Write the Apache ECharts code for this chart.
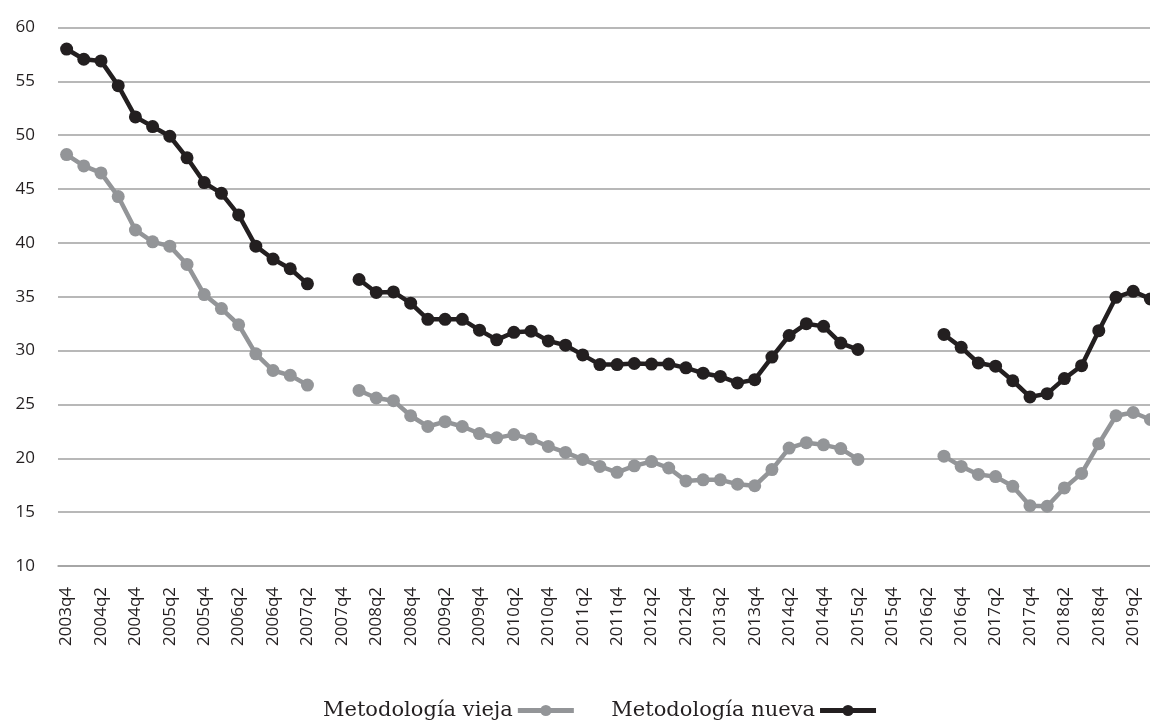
<!DOCTYPE html>
<html>
<head>
<meta charset="utf-8">
<script src="https://cdn.jsdelivr.net/npm/echarts@6/dist/echarts.min.js"></script>
<style>html,body{margin:0;padding:0;background:#fff;overflow:hidden;width:1150px;height:721px;}#c{width:1159px;height:721px;}</style>
</head>
<body>
<div id="c"></div>
<script>
var categories = [
 '2003q4',
 '2004q1','2004q2','2004q3','2004q4',
 '2005q1','2005q2','2005q3','2005q4',
 '2006q1','2006q2','2006q3','2006q4',
 '2007q1','2007q2','2007q3','2007q4',
 '2008q1','2008q2','2008q3','2008q4',
 '2009q1','2009q2','2009q3','2009q4',
 '2010q1','2010q2','2010q3','2010q4',
 '2011q1','2011q2','2011q3','2011q4',
 '2012q1','2012q2','2012q3','2012q4',
 '2013q1','2013q2','2013q3','2013q4',
 '2014q1','2014q2','2014q3','2014q4',
 '2015q1','2015q2','2015q3','2015q4',
 '2016q1','2016q2','2016q3','2016q4',
 '2017q1','2017q2','2017q3','2017q4',
 '2018q1','2018q2','2018q3','2018q4',
 '2019q1','2019q2','2019q3'
];
var vieja = [
 48.2,
 47.15,46.5,44.3,41.2,
 40.1,39.7,38.0,35.2,
 33.9,32.4,29.7,28.15,
 27.7,26.8,null,null,
 26.3,25.6,25.35,23.95,
 22.95,23.4,22.95,22.3,
 21.9,22.2,21.8,21.1,
 20.55,19.9,19.25,18.7,
 19.3,19.7,19.1,17.9,
 18.0,18.0,17.6,17.45,
 18.95,20.95,21.45,21.25,
 20.9,19.9,null,null,
 null,null,20.2,19.25,
 18.5,18.3,17.4,15.6,
 15.55,17.25,18.6,21.35,
 23.95,24.25,23.6
];
var nueva = [
 58.0,
 57.05,56.9,54.6,51.7,
 50.8,49.9,47.9,45.6,
 44.6,42.6,39.7,38.5,
 37.6,36.2,null,null,
 36.6,35.4,35.45,34.4,
 32.9,32.9,32.9,31.9,
 31.0,31.7,31.8,30.9,
 30.5,29.6,28.7,28.7,
 28.8,28.75,28.75,28.4,
 27.9,27.6,27.0,27.3,
 29.4,31.4,32.5,32.25,
 30.7,30.1,null,null,
 null,null,31.5,30.3,
 28.85,28.55,27.2,25.7,
 26.0,27.4,28.6,31.85,
 34.95,35.5,34.8
];
var seriesNames = ['Metodología vieja', 'Metodología nueva'];

var chart = echarts.init(document.getElementById('c'), null, {renderer: 'canvas'});
chart.setOption({
  animation: false,
  backgroundColor: '#ffffff',
  grid: {left: 58, right: 0, top: 27.5, bottom: 155, containLabel: false},
  legend: {
    data: seriesNames,
    left: 318,
    top: 695,
    align: 'right',
    itemWidth: 56,
    itemHeight: 14,
    itemGap: 35,
    lineStyle: {width: 5},
    textStyle: {fontFamily: 'DejaVu Serif', fontSize: 21, color: '#231f20'}
  },
  xAxis: {
    type: 'category',
    data: categories,
    boundaryGap: true,
    axisLine: {show: true, lineStyle: {color: '#a0a0a0', width: 1.5}},
    axisTick: {show: false},
    axisLabel: {interval: 1, rotate: 90, margin: 21, color: '#231f20',
      fontFamily: 'Open Sans', fontSize: 17}
  },
  yAxis: {
    type: 'value',
    min: 10, max: 60, interval: 5,
    axisLine: {show: false},
    axisTick: {show: false},
    splitLine: {lineStyle: {color: '#a0a0a0', width: 1.5}},
    axisLabel: {margin: 23, color: '#231f20', fontFamily: 'Open Sans', fontSize: 17}
  },
  series: [
    {
      name: seriesNames[0], type: 'line', data: vieja,
      connectNulls: false, showAllSymbol: true,
      symbol: 'circle', symbolSize: 13,
      itemStyle: {color: '#939598'},
      lineStyle: {color: '#939598', width: 4.5},
      z: 2
    },
    {
      name: seriesNames[1], type: 'line', data: nueva,
      connectNulls: false, showAllSymbol: true,
      symbol: 'circle', symbolSize: 13,
      itemStyle: {color: '#231f20'},
      lineStyle: {color: '#231f20', width: 4.5},
      z: 3
    }
  ]
});
</script>
</body>
</html>
